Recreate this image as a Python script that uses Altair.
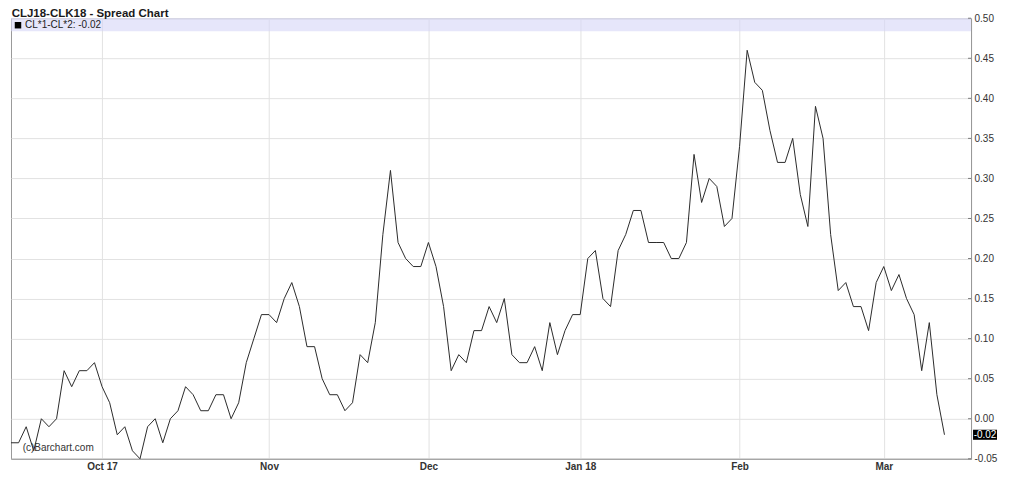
import altair as alt
import pandas as pd

# ---- data (one value per trading day) ----
spread_values = [
    -0.03, -0.03, -0.01, -0.04, 0.00, -0.01, 0.00, 0.06, 0.04, 0.06,
    0.06, 0.07, 0.04, 0.02, -0.02, -0.01, -0.04, -0.05, -0.01, 0.00,
    -0.03, 0.00, 0.01, 0.04, 0.03, 0.01, 0.01, 0.03, 0.03, 0.00,
    0.02, 0.07, 0.10, 0.13, 0.13, 0.12, 0.15, 0.17, 0.14, 0.09,
    0.09, 0.05, 0.03, 0.03, 0.01, 0.02, 0.08, 0.07, 0.12, 0.23,
    0.31, 0.22, 0.20, 0.19, 0.19, 0.22, 0.19, 0.14, 0.06, 0.08,
    0.07, 0.11, 0.11, 0.14, 0.12, 0.15, 0.08, 0.07, 0.07, 0.09,
    0.06, 0.12, 0.08, 0.11, 0.13, 0.13, 0.20, 0.21, 0.15, 0.14,
    0.21, 0.23, 0.26, 0.26, 0.22, 0.22, 0.22, 0.20, 0.20, 0.22,
    0.33, 0.27, 0.30, 0.29, 0.24, 0.25, 0.34, 0.46, 0.42, 0.41,
    0.36, 0.32, 0.32, 0.35, 0.28, 0.24, 0.39, 0.35, 0.23, 0.16,
    0.17, 0.14, 0.14, 0.11, 0.17, 0.19, 0.16, 0.18, 0.15, 0.13,
    0.06, 0.12, 0.03, -0.02,
]
day_index = list(range(len(spread_values)))

month_tick_index = [12, 34, 55, 75, 96, 115]
month_tick_labels = ["Oct 17", "Nov", "Dec", "Jan 18", "Feb", "Mar"]

y_tick_values = [-0.05, 0.00, 0.05, 0.10, 0.15, 0.20, 0.25, 0.30, 0.35, 0.40, 0.45, 0.50]

chart_title = "CLJ18-CLK18 - Spread Chart"
series_name = "CL*1-CL*2"
watermark = "(c)Barchart.com"

last_value = spread_values[-1]
last_label = f"{last_value:.2f}"

# ---- layout ----
W, H = 961, 441
FONT = "Liberation Sans"

x_scale = alt.Scale(domain=[0, 126.5], nice=False, zero=False)
y_scale = alt.Scale(domain=[-0.05, 0.50], nice=False, zero=False)

x_label_expr = " : ".join(
    f"datum.value == {t} ? '{l}'" for t, l in zip(month_tick_index, month_tick_labels)
) + " : ''"
y_label_expr = "datum.value < -0.0001 ? '-' + format(abs(datum.value), '.2f') : format(abs(datum.value), '.2f')"

x_axis = alt.Axis(
    values=month_tick_index,
    labelExpr=x_label_expr,
    title=None,
    grid=True,
    gridColor="#e2e2e2",
    tickSize=0,
    labelPadding=3,
    labelFont=FONT,
    labelFontSize=10,
    labelFontWeight="bold",
    labelColor="#333333",
    domainColor="#999999",
    labelFlush=False,
)
y_axis = alt.Axis(
    orient="right",
    values=y_tick_values,
    labelExpr=y_label_expr,
    title=None,
    grid=True,
    gridColor="#e2e2e2",
    tickSize=0,
    labelPadding=3,
    labelFont=FONT,
    labelFontSize=10,
    labelColor="#333333",
    domainColor="#999999",
    labelFlush=False,
)

df = pd.DataFrame({"i": day_index, "v": spread_values})

line = alt.Chart(df).mark_line(color="#2b2b2b", strokeWidth=1).encode(
    x=alt.X("i:Q", scale=x_scale, axis=x_axis),
    y=alt.Y("v:Q", scale=y_scale, axis=y_axis),
)

one = pd.DataFrame({"k": [0]})

band = alt.Chart(one).mark_rect(color="#d6d6f7", opacity=0.6).encode(
    x=alt.value(0), x2=alt.value(W), y=alt.value(0), y2=alt.value(13)
)

legend_sq = alt.Chart(one).mark_square(color="black", size=42, opacity=1, filled=True).encode(
    x=alt.value(7), y=alt.value(7)
)
legend_txt = alt.Chart(pd.DataFrame({"t": [f"{series_name}: {last_label}"]})).mark_text(
    align="left", baseline="middle", font=FONT, fontSize=10, color="#222222"
).encode(x=alt.value(14), y=alt.value(7), text="t:N")

inner_ticks = alt.Chart(pd.DataFrame({"v": y_tick_values})).mark_rule(color="#777777").encode(
    y=alt.Y("v:Q", scale=y_scale, axis=y_axis), x=alt.value(W - 3), x2=alt.value(W)
)

last_df = pd.DataFrame({"v": [last_value], "t": [last_label]})
value_box = alt.Chart(last_df).mark_point(
    shape="M-1,-0.42L1,-0.42L1,0.42L-1,0.42Z", size=576, filled=True, color="black", opacity=1
).encode(x=alt.value(W + 14), y=alt.Y("v:Q", scale=y_scale, axis=y_axis))
value_txt = alt.Chart(last_df).mark_text(
    align="center", baseline="middle", font=FONT, fontSize=10, color="white"
).encode(x=alt.value(W + 14), y=alt.Y("v:Q", scale=y_scale, axis=y_axis), text="t:N")

title_txt = alt.Chart(pd.DataFrame({"t": [chart_title]})).mark_text(
    align="left", baseline="alphabetic", font=FONT, fontSize=11.5, fontWeight="bold", color="#1a1a1a"
).encode(x=alt.value(0.7), y=alt.value(-1.5), text="t:N")

wm_txt = alt.Chart(pd.DataFrame({"t": [watermark]})).mark_text(
    align="left", baseline="middle", font=FONT, fontSize=10, color="#333333"
).encode(x=alt.value(11.7), y=alt.value(430), text="t:N")

chart = (
    alt.layer(band, line, inner_ticks, legend_sq, legend_txt, value_box, value_txt, title_txt, wm_txt)
    .properties(
        width=W,
        height=H,
        autosize=alt.AutoSizeParams(type="none"),
        padding={"left": 3, "top": 10, "right": 45, "bottom": 22},
    )
    .configure_view(stroke="#999999", strokeWidth=1)
)

chart.save("out.html", embed_options={"renderer": "svg", "actions": False})
